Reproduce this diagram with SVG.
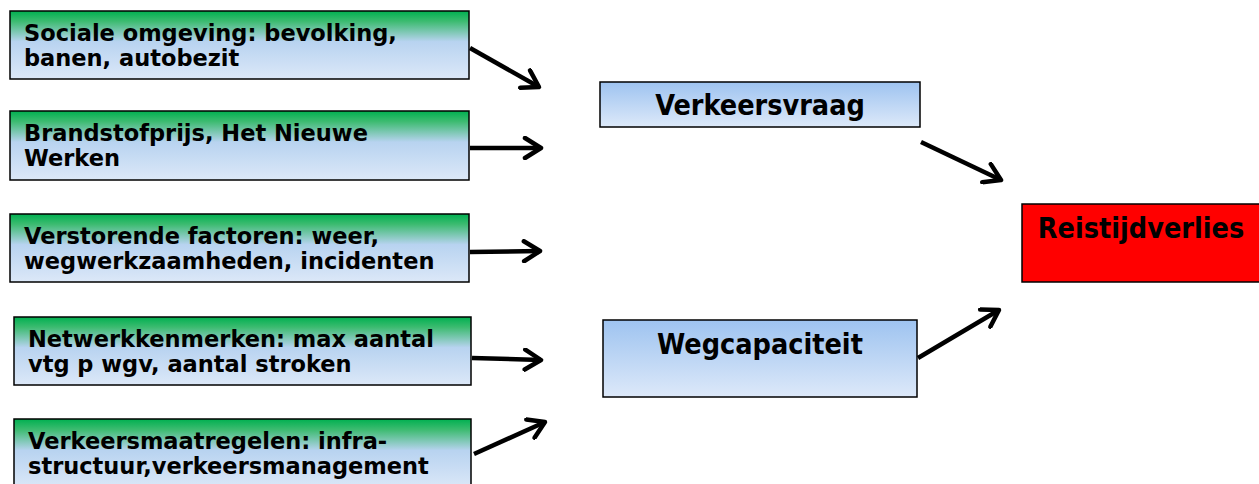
<svg xmlns="http://www.w3.org/2000/svg" width="1259" height="484" viewBox="0 0 1259 484">
<defs>
<linearGradient id="gg" x1="0" y1="0" x2="0" y2="1">
<stop offset="0" stop-color="#00b050"/>
<stop offset="0.15" stop-color="#3cbb70"/>
<stop offset="0.45" stop-color="#b8d3f0"/>
<stop offset="1" stop-color="#dce8f8"/>
</linearGradient>
<linearGradient id="gb" x1="0" y1="0" x2="0" y2="1">
<stop offset="0" stop-color="#9ec3f0"/>
<stop offset="1" stop-color="#dde9f9"/>
</linearGradient>
<marker id="ah" viewBox="0 0 24 24" refX="20" refY="12" markerWidth="24" markerHeight="24" markerUnits="userSpaceOnUse" orient="auto">
<polyline points="4,2 20,12 4,22" fill="none" stroke="#000" stroke-width="4.5" stroke-linecap="round" stroke-linejoin="round"/>
</marker>
</defs>
<style>
.g{fill:url(#gg);stroke:#000;stroke-width:1.5}
.b{fill:url(#gb);stroke:#000;stroke-width:1.5}
.r{fill:#ff0000;stroke:#000;stroke-width:1.5}
.t{font-family:"DejaVu Sans",Verdana,sans-serif;font-weight:bold;font-size:22.5px;fill:#000}
.c{font-family:"DejaVu Sans Condensed","DejaVu Sans",sans-serif;font-stretch:condensed;font-weight:bold;font-size:28.5px;fill:#000}
.a{fill:none;stroke:#000;stroke-width:4.5;marker-end:url(#ah)}
</style>
<g id="n1"><rect class="g" x="10" y="11" width="459" height="68"/><text class="t" x="24" y="41">Sociale omgeving: bevolking,</text><text class="t" x="24" y="66">banen, autobezit</text></g>
<g id="n2"><rect class="g" x="10" y="111" width="459" height="69"/><text class="t" x="24" y="141">Brandstofprijs, Het Nieuwe</text><text class="t" x="24" y="166">Werken</text></g>
<g id="n3"><rect class="g" x="10" y="214" width="459" height="68"/><text class="t" x="24" y="244">Verstorende factoren: weer,</text><text class="t" x="24" y="269">wegwerkzaamheden, incidenten</text></g>
<g id="n4"><rect class="g" x="14" y="317" width="457" height="68"/><text class="t" x="28" y="347">Netwerkkenmerken: max aantal</text><text class="t" x="28" y="372">vtg p wgv, aantal stroken</text></g>
<g id="n5"><rect class="g" x="14" y="419" width="457" height="70"/><text class="t" x="28" y="449">Verkeersmaatregelen: infra-</text><text class="t" x="28" y="474">structuur,verkeersmanagement</text></g>
<g id="n6"><rect class="b" x="600" y="82" width="320" height="45"/><text class="c" x="760" y="115" text-anchor="middle">Verkeersvraag</text></g>
<g id="n7"><rect class="b" x="603" y="320" width="314" height="77"/><text class="c" x="760" y="354" text-anchor="middle">Wegcapaciteit</text></g>
<g id="n8"><rect class="r" x="1022" y="204" width="240" height="78"/><text class="c" x="1141" y="238" text-anchor="middle">Reistijdverlies</text></g>
<g id="connectors">
<line class="a" x1="470" y1="48" x2="539" y2="87"/>
<line class="a" x1="470" y1="148" x2="541" y2="148"/>
<line class="a" x1="470" y1="252" x2="540" y2="251"/>
<line class="a" x1="472" y1="358" x2="541" y2="360"/>
<line class="a" x1="474" y1="454" x2="545" y2="422"/>
<line class="a" x1="921" y1="142" x2="1001" y2="180"/>
<line class="a" x1="918" y1="358" x2="999" y2="310"/>
</g>
</svg>
